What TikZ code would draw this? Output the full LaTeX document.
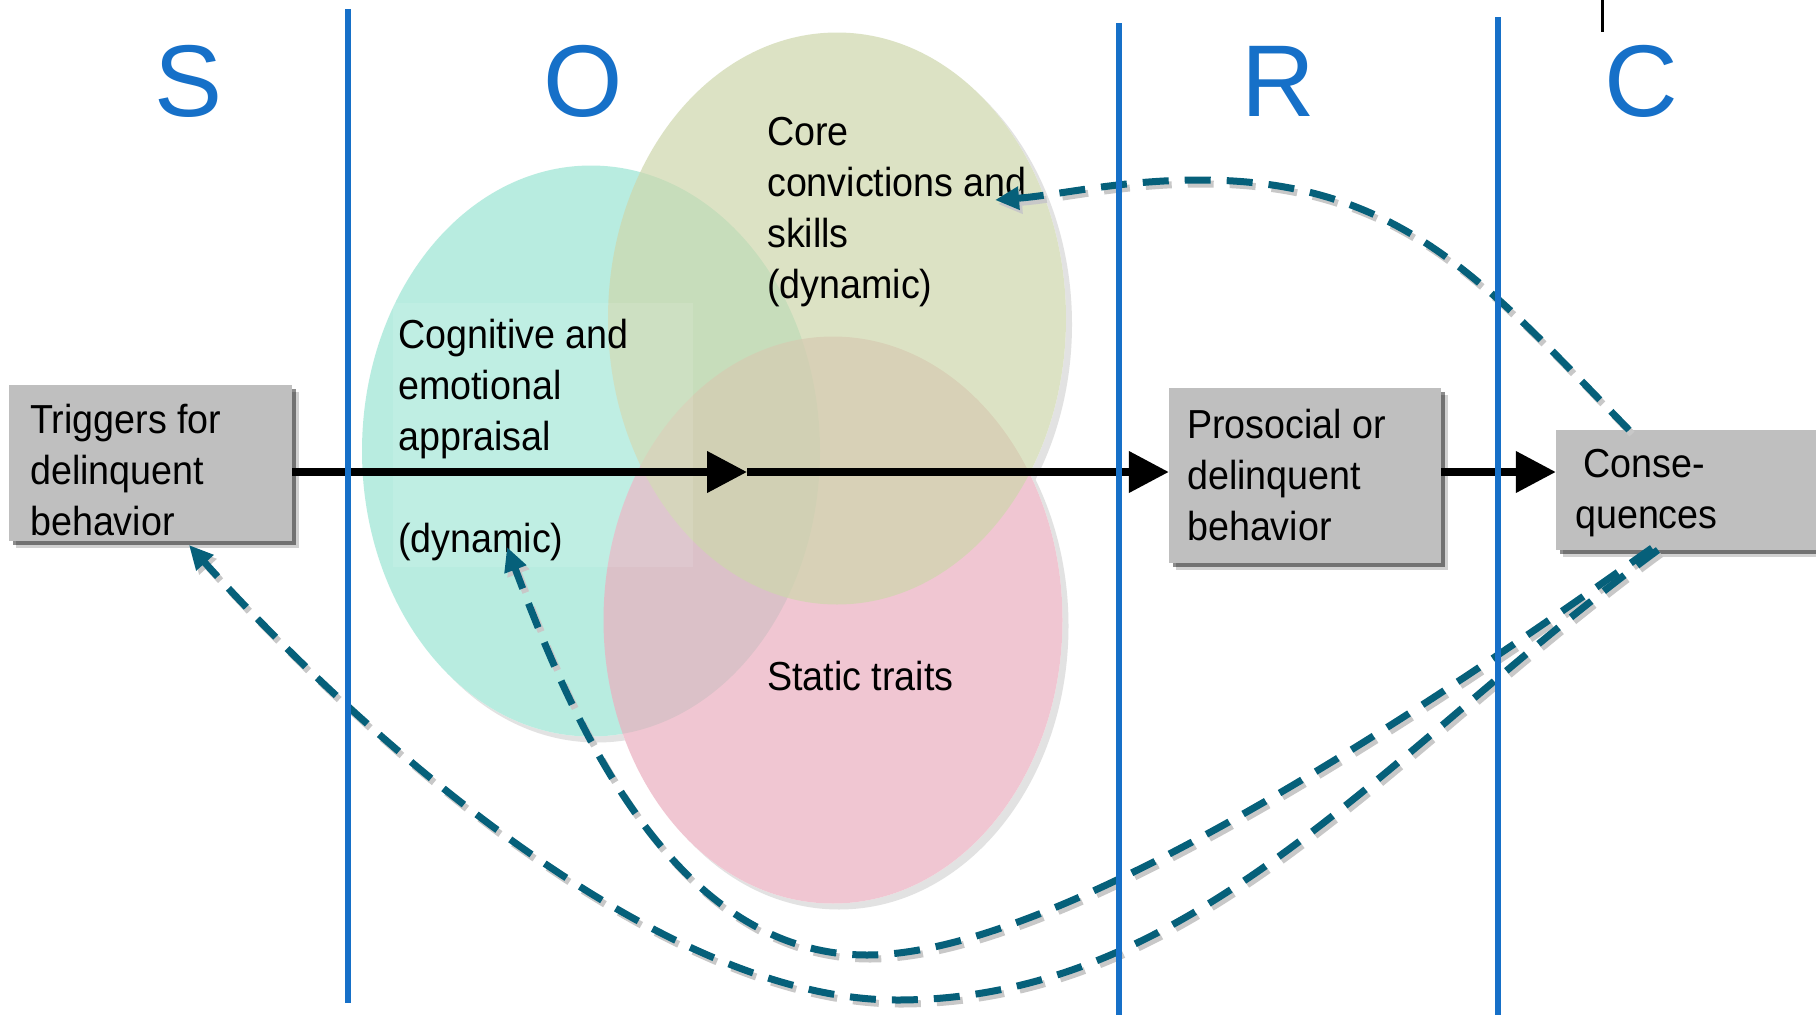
\documentclass[tikz,border=0pt]{standalone}
\usepackage{fontspec}
\setmainfont{Liberation Sans}
\newfontfamily\labfont{Liberation Sans}[FakeStretch=0.93]
\usetikzlibrary{arrows.meta,shadows}
\definecolor{sorcblue}{RGB}{22,112,200}
\definecolor{fbteal}{RGB}{6,96,122}
\definecolor{fbshadow}{RGB}{200,200,200}
\definecolor{boxgray}{RGB}{191,191,191}
\definecolor{cogfill}{RGB}{155,229,211}
\definecolor{corefill}{RGB}{206,215,172}
\definecolor{statfill}{RGB}{235,175,191}
\definecolor{ellshadow}{RGB}{226,226,226}
\tikzset{
  lbl/.style={font=\labfont\fontsize{40.5}{51}\selectfont, align=left, anchor=base west, inner sep=0pt},
  head/.style={font=\fontsize{102}{110}\selectfont, text=sorcblue, anchor=base, inner sep=0pt},
  sepline/.style={draw=sorcblue, line width=6.5pt},
  box/.style={fill=boxgray, inner sep=0pt,
    drop shadow={shadow xshift=7pt, shadow yshift=-7pt, opacity=.18, fill=black},
    drop shadow={shadow xshift=4pt, shadow yshift=-4pt, opacity=.45, fill=black}},
  flow/.style={draw=black, line width=7.5pt, -{Triangle[length=40pt,width=40pt]}},
  fb/.style={draw=fbteal, line width=7pt, dash pattern=on 26pt off 16pt, -{Triangle[length=24pt,width=22pt]}},
  fbs/.style={draw=fbshadow, line width=7pt, dash pattern=on 26pt off 16pt, -{Triangle[length=24pt,width=22pt]},
    transform canvas={shift={(3pt,-4pt)}}},
  vennfill/.style={fill opacity=0.7},
}
\begin{document}
\begin{tikzpicture}[x=1pt,y=-1pt]
\useasboundingbox[fill=white] (0,0) rectangle (1816,1015);

% Venn ellipses: shadows, white bases, tinted fills
\fill[ellshadow] (597,457) ellipse [x radius=229, y radius=285.5];
\fill[ellshadow] (843,324.5) ellipse [x radius=229, y radius=286];
\fill[ellshadow] (839,626) ellipse [x radius=229.5, y radius=283.5];
\fill[white] (591,451) ellipse [x radius=229, y radius=285.5];
\fill[white] (837,318.5) ellipse [x radius=229, y radius=286];
\fill[white] (833,620) ellipse [x radius=229.5, y radius=283.5];
\fill[cogfill, vennfill] (591,451) ellipse [x radius=229, y radius=285.5];
\fill[statfill, vennfill] (833,620) ellipse [x radius=229.5, y radius=283.5];
\fill[corefill, vennfill] (837,318.5) ellipse [x radius=229, y radius=286];
\fill[white, fill opacity=0.11] (393,303) rectangle (693,567);

% column headings
\node[head] (hS) at (189,116) {S};
\node[head] (hO) at (583,116) {O};
\node[head] (hR) at (1278,116) {R};
\node[head] (hC) at (1641,116) {C};

% boxes
\node[box, minimum width=283pt, minimum height=156pt] (trig) at (150.5,463) {};
\node[box, minimum width=272pt, minimum height=175pt] (pro) at (1305,475.5) {};
\node[box, minimum width=260pt, minimum height=120pt] (cons) at (1686,490) {};

% texts (anchor = baseline of the last line)
\node[lbl] (trigT) at (30,535.5) {Triggers for\\delinquent\\behavior};
\node[lbl] (proT) at (1187,540) {Prosocial or\\delinquent\\behavior};
\node[lbl] (consT) at (1575,528) {\hspace*{8pt}Conse-\\quences};
\node[lbl] (coreT) at (767,298) {Core\\convictions and\\skills\\(dynamic)};
\node[lbl] (cogT) at (398,552) {Cognitive and\\emotional\\appraisal\\[51pt](dynamic)};
\node[lbl] (statT) at (767,690) {Static traits};

% main flow
\coordinate (mid) at (747,472);
\draw[flow] (trig.east |- mid) -- (mid);
\draw[flow] (mid) -- (pro.west |- mid);
\draw[flow] (pro.east |- mid) -- (cons.west |- mid);

% feedback loops
\coordinate (consTop) at (1629,430);
\coordinate (consBotA) at (1652,548);
\coordinate (consBotB) at (1658,550);
\coordinate (coreTip) at (995,200);
\coordinate (dynTip) at (507,547);
\coordinate (trigTip) at (189,545);
\draw[fbs] (consTop) .. controls (1485,282) and (1400,180) .. (1200,180) .. controls (1120,180) and (1060,195) .. (coreTip);
\draw[fbs] (consBotA) .. controls (1455,688) and (1067,955) .. (867,955) .. controls (667,955) and (567,706) .. (dynTip);
\draw[fbs] (consBotB) .. controls (1388,748) and (1197,1000) .. (897,1000) .. controls (647,1000) and (340,713) .. (trigTip);
\draw[fb] (consTop) .. controls (1485,282) and (1400,180) .. (1200,180) .. controls (1120,180) and (1060,195) .. (coreTip);
\draw[fb] (consBotA) .. controls (1455,688) and (1067,955) .. (867,955) .. controls (667,955) and (567,706) .. (dynTip);
\draw[fb] (consBotB) .. controls (1388,748) and (1197,1000) .. (897,1000) .. controls (647,1000) and (340,713) .. (trigTip);

% column separators
\draw[sepline] (348,9) -- (348,1003);
\draw[sepline] (1119,23) -- (1119,1015);
\draw[sepline] (1498,17) -- (1498,1015);
\draw[line width=3pt] (1602,0) -- (1602,32);
\end{tikzpicture}
\end{document}
